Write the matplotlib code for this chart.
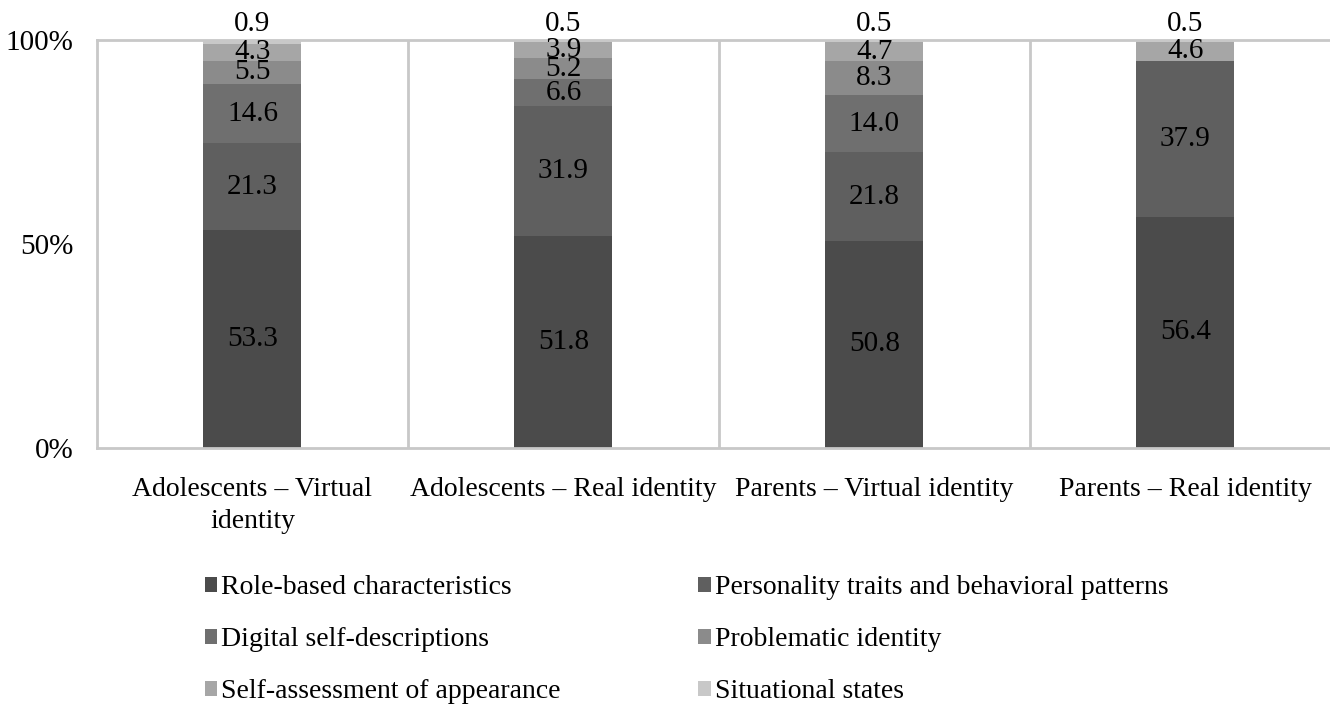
import numpy as np
import matplotlib
matplotlib.use("Agg")
import matplotlib.pyplot as plt
from matplotlib.patches import Patch

plt.rcParams['font.family'] = ['Liberation Serif', 'DejaVu Serif']

groups = ["Adolescents – Virtual\nidentity", "Adolescents – Real identity",
          "Parents – Virtual identity", "Parents – Real identity"]

series = ["Role-based characteristics", "Personality traits and behavioral patterns",
          "Digital self-descriptions", "Problematic identity",
          "Self-assessment of appearance", "Situational states"]

role_based = [53.3, 51.8, 50.8, 56.4]
personality = [21.3, 31.9, 21.8, 37.9]
digital = [14.6, 6.6, 14.0, 0.0]
problematic = [5.5, 5.2, 8.3, 0.0]
appearance = [4.3, 3.9, 4.7, 4.6]
situational = [0.9, 0.5, 0.5, 0.5]

colors = ["#4b4b4b", "#5f5f5f", "#6f6f6f", "#8b8b8b", "#a6a6a6", "#c8c8c8"]

values = np.array([role_based, personality, digital, problematic, appearance, situational])
# 100% stacked: each column scaled to its own total
shares = values / values.sum(axis=0) * 100

fig = plt.figure(figsize=(13.3, 7.08), dpi=100)
ax = fig.add_axes([0.0729, 0.3672, 0.9353, 0.5763])

x = np.arange(len(groups))
bottom = np.zeros(len(groups))
for i in range(len(series)):
    ax.bar(x, shares[i], 0.315, bottom=bottom, color=colors[i], zorder=2)
    for j in range(len(groups)):
        if values[i, j] == 0:
            continue
        if i == len(series) - 1:
            ypos = 104
        else:
            ypos = bottom[j] + shares[i, j] / 2
        ax.text(x[j], ypos, f"{values[i, j]:.1f}", ha="center", va="center",
                fontsize=21, color="black", zorder=3)
    bottom += shares[i]

grid_col = "#c8c8c8"
ax.set_xlim(-0.5, 3.5)
ax.set_ylim(0, 100)
ax.axhline(100, color=grid_col, lw=2, zorder=1, clip_on=False)
for sep in [0.5, 1.5, 2.5]:
    ax.axvline(sep, color=grid_col, lw=2, zorder=1)
for side in ["top", "right"]:
    ax.spines[side].set_visible(False)
for side in ["left", "bottom"]:
    ax.spines[side].set_color(grid_col)
    ax.spines[side].set_linewidth(2)

ax.set_yticks([0, 50, 100])
ax.set_yticklabels(["0%", "50%", "100%"], fontsize=21)
ax.set_xticks(x)
ax.set_xticklabels(groups, fontsize=20, linespacing=1.35)
ax.tick_params(axis="y", length=0, pad=17)
ax.tick_params(axis="x", length=0, pad=21)

# legend laid out row by row
order = [0, 2, 4, 1, 3, 5]
handles = [Patch(facecolor=colors[k], edgecolor="none", label=series[k]) for k in order]
fig.legend(handles=handles, loc="upper left", bbox_to_anchor=(0.135, 0.223),
           ncol=2, frameon=False, fontsize=20, handlelength=0.45, handleheight=0.45,
           handletextpad=0.15, columnspacing=4.95, labelspacing=0.97)

fig.savefig("out.png", dpi=100)
